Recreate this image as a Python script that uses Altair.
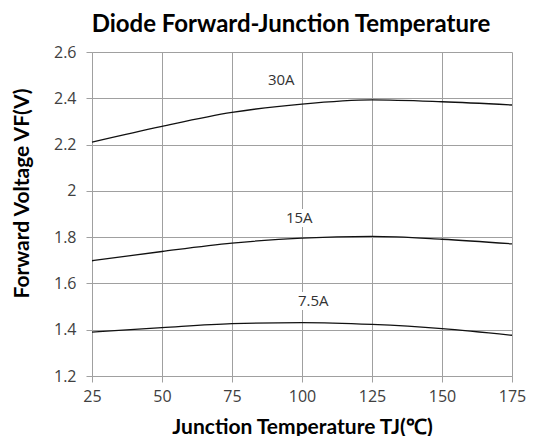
import altair as alt
import pandas as pd

temps = [25, 50, 75, 100, 125, 150, 175]
vf_30a = [2.211, 2.279, 2.339, 2.375, 2.393, 2.385, 2.371]
vf_15a = [1.698, 1.738, 1.774, 1.796, 1.803, 1.791, 1.771]
vf_7_5a = [1.390, 1.409, 1.426, 1.431, 1.423, 1.405, 1.376]
series_names = ["30A", "15A", "7.5A"]
label_x = [92.6, 99, 104]
label_y = [2.48, 1.884, 1.524]
x_ticks = [25, 50, 75, 100, 125, 150, 175]
y_ticks = [1.2, 1.4, 1.6, 1.8, 2.0, 2.2, 2.4, 2.6]

rows = []
for name, vals in zip(series_names, [vf_30a, vf_15a, vf_7_5a]):
    for t, v in zip(temps, vals):
        rows.append({"series": name, "tj": t, "vf": v})
df = pd.DataFrame(rows)
labels = pd.DataFrame({"series": series_names, "tj": label_x, "vf": label_y})

grid = "#a0a0a0"
x = alt.X("tj:Q", scale=alt.Scale(domain=[25, 175], nice=False, zero=False),
          axis=alt.Axis(values=x_ticks, title="Junction Temperature TJ(℃)", labelFlush=False,
                        grid=True, gridColor=grid, domainColor=grid, tickColor=grid,
                        tickSize=6, labelPadding=6, labelFont="Open Sans", labelFontSize=16,
                        labelColor="#404040", titleFont="Lato", titleFontSize=21,
                        titleFontWeight="bold", titleColor="#000000", titlePadding=12))
y = alt.Y("vf:Q", scale=alt.Scale(domain=[1.2, 2.6], nice=False, zero=False),
          axis=alt.Axis(values=y_ticks, format="~g", title="Forward Voltage VF(V)", labelFlush=False,
                        grid=True, gridColor=grid, domainColor=grid, tickColor=grid,
                        tickSize=6, labelPadding=10, labelFont="Open Sans", labelFontSize=16,
                        labelColor="#404040", titleFont="Lato", titleFontSize=21,
                        titleFontWeight="bold", titleColor="#000000",
                        titleX=-70, titleY=141, titleBaseline="middle", titleAngle=-90,
                        titleAlign="center"))

lines = alt.Chart(df).mark_line(color="#111111", strokeWidth=1.3, interpolate="monotone").encode(
    x=x, y=y, detail="series:N")

label_bg = alt.Chart(labels).mark_text(font="Open Sans", fontSize=15, color="white",
                                        stroke="white", strokeWidth=8).encode(
    x="tj:Q", y="vf:Q", text="series:N")
label_txt = alt.Chart(labels).mark_text(font="Open Sans", fontSize=15, color="#333333").encode(
    x="tj:Q", y="vf:Q", text="series:N")

chart = alt.layer(lines, label_bg, label_txt).properties(
    width=420, height=324,
    title=alt.TitleParams("Diode Forward-Junction Temperature", font="Lato", fontSize=24,
                          fontWeight="bold", anchor="middle", dx=-11, offset=7, color="#000000"),
    autosize=alt.AutoSizeParams(type="none"),
    padding={"left": 84, "top": 44, "right": 14, "bottom": 60},
).configure_view(stroke=None)

chart.save("out.html", embed_options={"renderer": "svg", "actions": False})
